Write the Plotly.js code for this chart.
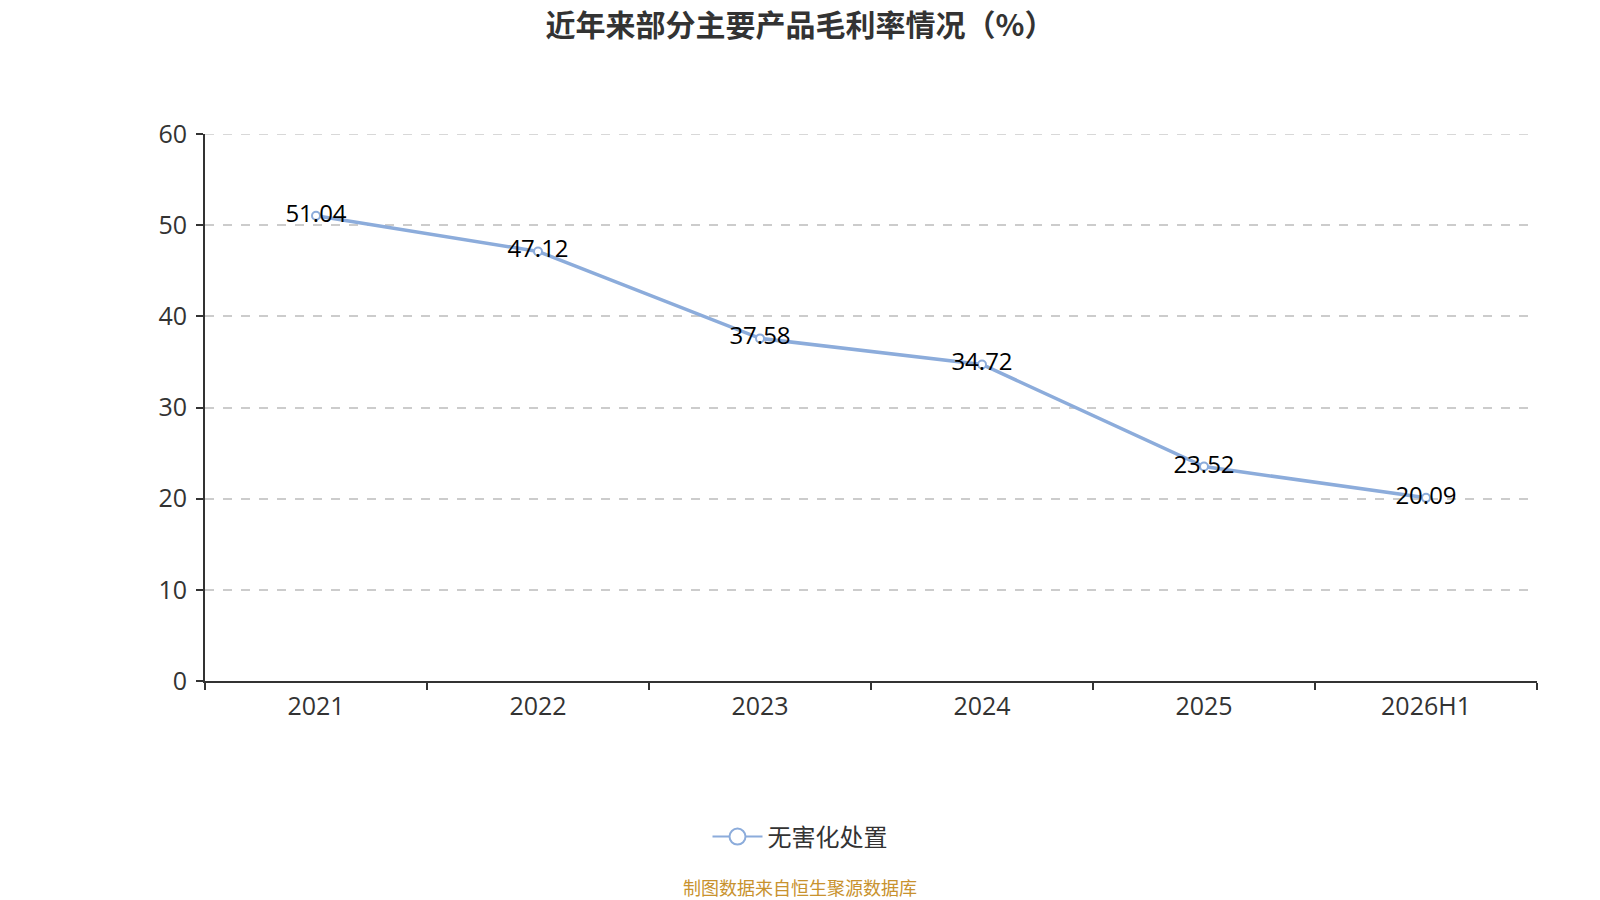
<!DOCTYPE html>
<html>
<head>
<meta charset="utf-8">
<script src="https://cdn.plot.ly/plotly-3.0.1.min.js"></script>
<style>
  html, body { margin: 0; padding: 0; background: #fff; }
  #chart { width: 1600px; height: 900px; }
</style>
</head>
<body>
<div id="chart"></div>
<script>
/* gross margin chart — one line series with value labels */

const CATEGORIES = ['2021', '2022', '2023', '2024', '2025', '2026H1'];
const MARGIN_VALUES = [51.04, 47.12, 37.58, 34.72, 23.52, 20.09];
const SERIES_NAME = '无害化处置';
const Y_TICKS = [0, 10, 20, 30, 40, 50, 60];

const LINE_COLOR = '#8cacdb';
const FONT = '"Noto Sans CJK SC", "Open Sans", sans-serif';
const NUM_FONT = '"Open Sans", sans-serif';
const Y_MAX = Y_TICKS[Y_TICKS.length - 1];

const traces = [
  {
    type: 'scatter', mode: 'lines+markers+text',
    x: CATEGORIES, y: MARGIN_VALUES,
    text: MARGIN_VALUES.map(v => v.toFixed(2)),
    textposition: 'middle center',
    textfont: { family: NUM_FONT, size: 24, color: '#000' },
    line: { color: LINE_COLOR, width: 3.5 },
    marker: { symbol: 'circle', size: 8, color: '#fff', line: { color: LINE_COLOR, width: 2 } },
    showlegend: false, cliponaxis: false, hoverinfo: 'x+y',
  },
  {
    // legend entry only (bigger symbol like the reference)
    type: 'scatter', mode: 'lines+markers',
    x: [null], y: [null], name: SERIES_NAME,
    line: { color: LINE_COLOR, width: 2 },
    marker: { symbol: 'circle', size: 22, color: '#fff', line: { color: LINE_COLOR, width: 2 } },
    showlegend: true,
  },
];

const layout = {
  width: 1600, height: 900,
  paper_bgcolor: '#fff', plot_bgcolor: '#fff',
  font: { family: FONT, color: '#333', size: 24 },
  margin: { l: 205, r: 63, t: 134, b: 219 },
  title: {
    text: '<b>近年来部分主要产品毛利率情况（%）</b>',
    x: 0.5, xanchor: 'center', y: 0.972, yanchor: 'middle',
    font: { family: FONT, size: 30, color: '#333' },
  },
  xaxis: {
    type: 'category', tickson: 'boundaries',
    showline: true, linecolor: '#333', linewidth: 2,
    ticks: 'outside', ticklen: 7, tickwidth: 2, tickcolor: '#333',
    showgrid: false, zeroline: false,
    tickfont: { family: NUM_FONT, size: 25, color: '#333' },
    ticklabelstandoff: 2,
    range: [-0.5, CATEGORIES.length - 0.5],
  },
  yaxis: {
    range: [0, Y_MAX], tickvals: Y_TICKS,
    showline: true, linecolor: '#333', linewidth: 2,
    ticks: 'outside', ticklen: 7, tickwidth: 2, tickcolor: '#333',
    showgrid: true, gridcolor: '#cccccc', griddash: 'dash', gridwidth: 1.5,
    zeroline: false,
    tickfont: { family: NUM_FONT, size: 25, color: '#333' },
    ticklabelstandoff: 4,
  },
  // top gridline (plotly drops the one on the plot edge)
  shapes: [{
    type: 'line', xref: 'paper', yref: 'y', x0: 0, x1: 1, y0: Y_MAX, y1: Y_MAX,
    line: { color: '#cccccc', width: 1.5, dash: 'dash' }, layer: 'below',
  }],
  legend: {
    orientation: 'h', x: 0.5, xref: 'container', xanchor: 'center',
    y: 0.07, yref: 'container', yanchor: 'middle',
    font: { family: FONT, size: 24, color: '#333' },
    itemwidth: 50,
  },
  annotations: [{
    text: '制图数据来自恒生聚源数据库',
    xref: 'paper', yref: 'paper',
    x: (800 - 205) / 1332, y: -(887 - 681) / 547,
    xanchor: 'center', yanchor: 'middle', showarrow: false,
    font: { family: FONT, size: 18, color: '#c8922e' },
  }],
  showlegend: true,
};

Plotly.newPlot('chart', traces, layout, { displayModeBar: false });
</script>
</body>
</html>
